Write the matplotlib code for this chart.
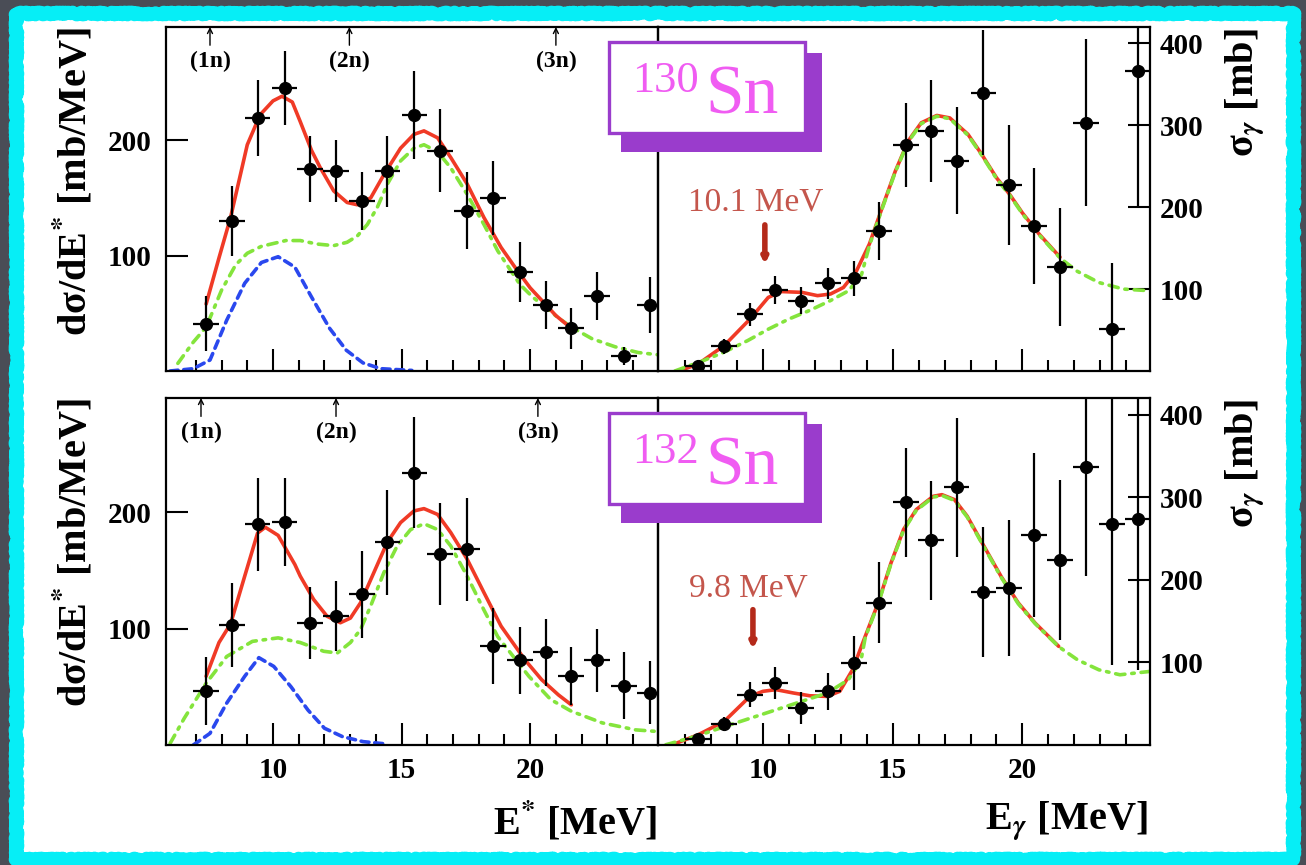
import matplotlib
matplotlib.use("Agg")
import matplotlib.pyplot as plt
from matplotlib.patches import Rectangle
from matplotlib.ticker import FixedLocator

plt.rcParams['font.family'] = ['Liberation Serif', 'DejaVu Serif']
plt.rcParams['font.weight'] = 'bold'
plt.rcParams['mathtext.fontset'] = 'stix'

W, H = 1306, 865

# ---- 130Sn : Coulomb excitation spectrum (left) and photoabsorption (right)
e_tl = [7.4, 8.4, 9.4, 10.45, 11.45, 12.45, 13.45, 14.45, 15.5, 16.5,
        17.55, 18.55, 19.6, 20.6, 21.6, 22.6, 23.65, 24.65]
y_tl = [41, 130, 219, 245, 175, 173, 147, 173, 222, 191,
        139, 150, 86, 57, 37, 65, 13, 57]
err_tl = [24, 30, 33, 32, 29, 27, 25, 31, 38, 36,
          33, 32, 26, 21, 18, 21, 8, 24]

e_tr = [7.48, 8.5, 9.5, 10.47, 11.46, 12.5, 13.5, 14.47, 15.5, 16.48,
        17.46, 18.5, 19.48, 20.46, 21.44, 22.45, 23.47, 24.45]
y_tr = [6.6, 30, 69.5, 99, 86, 107, 113, 171, 276, 293,
        257, 340, 227, 177, 127, 303, 51, 366]
err_tr = [3, 9, 14, 17, 17, 19, 21, 35, 51, 62,
          65, 76, 73, 71, 72, 102, 81, 166]

# ---- 132Sn
e_bl = e_tl
y_bl = [46.6, 103.4, 189.7, 191.7, 105, 110.6, 129.3, 174, 234, 164,
        168, 85, 72.7, 79.6, 59.5, 72.7, 51, 45]
err_bl = [29, 36, 40, 38, 31, 30, 37, 45, 48, 44,
          44, 33, 29, 29, 25, 27, 29, 27]

e_br = e_tr
y_br = [7.1, 25.7, 60.8, 75, 44.7, 64.9, 99.2, 172, 294, 248,
        312, 185, 190, 254, 224, 336, 267, 273]
err_br = [5, 8, 15, 19, 19, 22, 33, 49, 66, 72,
          84, 79, 82, 99, 97, 132, 170, 182]

# fit curves: total (red), GDR (green), pygmy (blue)
red_tl_x = [7.4, 7.9, 8.35, 9.0, 9.5, 10.0, 10.35, 10.75, 11.06, 11.5, 11.84,
            12.36, 12.88, 13.28, 13.8, 14.31, 14.96, 15.48, 15.87, 16.4, 16.91,
            17.55, 18.2, 18.87, 19.5, 20.0, 20.5, 21.0, 21.6]
red_tl_y = [58, 98, 133, 196, 222, 234, 238, 233, 216, 191, 176,
            156, 146, 144, 150, 170, 193, 205, 208, 202, 185,
            162, 133, 107, 87, 72, 60, 48, 37]
grn_tl_x = [6.3, 6.9, 7.4, 8.0, 8.55, 9.0, 9.55, 10.5, 11.06, 11.71, 12.36,
            12.88, 13.28, 13.67, 14.06, 14.45, 14.96, 15.48, 15.87, 16.4, 16.91,
            17.55, 18.2, 18.74, 19.6, 20.1, 20.6, 21.1, 21.6, 22.4, 23.3, 24.2, 25.0]
grn_tl_y = [6.6, 25, 38, 70, 92, 102, 108, 113, 113, 110, 108.6,
            111.5, 117, 127, 142, 162, 182, 193, 196, 190, 176,
            153, 127, 104, 75, 64, 55, 46, 38, 28, 21, 16, 14]
blu_tl_x = [6.0, 6.9, 7.55, 8.2, 8.9, 9.55, 10.2, 10.85, 11.5, 12.2, 12.85,
            13.5, 14.2, 15.4]
blu_tl_y = [0, 2, 9.5, 44, 76, 94, 99, 90, 64, 37, 18, 7, 2, 0.5]

red_tr_x = [6.8, 7.5, 8.5, 9.5, 10.2, 10.7, 11.5, 12.1, 12.6, 13.1, 13.6,
            14.1, 14.6, 15.1, 15.6, 16.1, 16.7, 17.2, 17.9, 18.4, 19.0,
            19.5, 20.0, 20.65, 21.45]
red_tr_y = [0.5, 8.6, 31, 63.5, 89.8, 97, 96, 92, 94, 102, 122,
            155, 200, 244, 281, 303, 312, 309, 289, 266, 236,
            216, 193, 167, 139]
grn_tr_x = [6.6, 7.7, 8.5, 9.4, 10.2, 11.0, 11.8, 12.6, 13.3, 13.8,
            14.1, 14.6, 15.1, 15.6, 16.1, 16.7, 17.2, 17.9, 18.4, 19.0,
            19.5, 20.0, 20.65, 21.45, 22.1, 22.95, 23.9, 24.9]
grn_tr_y = [0, 12.7, 23, 37, 51, 63.5, 74, 86, 98, 118,
            153, 199, 243, 280, 302, 311, 308, 288, 265, 235,
            215, 192, 166, 138, 122, 108, 100, 98]

red_bl_x = [7.4, 7.9, 8.35, 8.9, 9.4, 9.7, 10.2, 10.85, 11.06, 11.58, 12.1,
            12.62, 13.01, 13.4, 13.92, 14.44, 14.96, 15.48, 15.87, 16.4, 16.91,
            17.55, 18.2, 18.87, 19.8, 20.45, 21.1, 21.6]
red_bl_y = [59, 88, 104, 145, 182, 187, 180, 155, 145, 125, 110.6,
            105, 109, 122, 148, 174, 191, 201, 203, 198, 182.5,
            159.5, 131, 102, 73, 56, 43, 34.5]
grn_bl_x = [6.0, 6.55, 7.4, 8.2, 9.2, 10.2, 11.06, 11.97, 12.5, 13.01, 13.4,
            13.79, 14.31, 14.83, 15.35, 15.87, 16.4, 16.91, 17.55, 18.2, 18.74,
            19.95, 20.8, 21.6, 22.8, 24.1, 25.0]
grn_bl_y = [1.4, 23, 53, 76, 89, 92, 88, 80.5, 79, 88, 99,
            119, 148, 171, 185, 190, 185, 171, 145, 116, 93,
            59, 39, 29, 19, 13, 11.5]
blu_bl_x = [6.9, 7.55, 8.2, 8.9, 9.45, 10.03, 10.7, 11.36, 12.0, 12.7, 13.5, 14.4]
blu_bl_y = [0, 10, 36, 59, 75, 67.5, 50, 30, 14.4, 7.2, 2.9, 0.9]

red_br_x = [6.5, 7.5, 8.5, 9.5, 10.0, 10.5, 11.16, 11.8, 12.47, 12.96, 13.45,
            13.94, 14.44, 14.93, 15.42, 15.91, 16.56, 16.9, 17.38, 17.87, 18.53,
            19.18, 19.84, 20.49, 21.4]
red_br_y = [0.3, 12.4, 28.5, 59, 65, 67, 63, 59.6, 58.8, 65, 91,
            131.5, 172, 220, 261, 285, 301, 303, 297, 277, 240,
            204, 172, 147.6, 119.4]
grn_br_x = [6.25, 7.4, 8.54, 9.53, 10.51, 11.49, 12.47, 13.29, 13.78, 13.94,
            14.44, 14.93, 15.42, 15.91, 16.56, 16.9, 17.38, 17.87, 18.53, 19.18,
            19.84, 20.49, 21.4, 22.13, 22.95, 23.76, 24.9]
grn_br_y = [0.3, 10.4, 22.5, 32.6, 42.7, 52.8, 62.9, 79, 103, 130,
            171, 219, 260, 284, 300, 302, 296, 276, 239, 203,
            171, 147, 119, 103, 91, 85, 89]

# neutron separation thresholds
thr_130 = [7.55, 12.97, 21.0]
thr_132 = [7.2, 12.45, 20.3]
thr_lbl = ['(1n)', '(2n)', '(3n)']

RED = '#f03a26'
GREEN = '#84e43c'
BLUE = '#2a48ee'
PURPLE = '#9a3ccc'
MAGENTA = '#f05cf2'
BROWN = '#c4564c'


def fx(px):
    return px / W


def fy(py):
    return 1 - py / H


def rect(l, t, r, b):
    return [fx(l), fy(b), (r - l) / W, (b - t) / H]


fig = plt.figure(figsize=(W / 100, H / 100), dpi=100)
fig.patch.set_facecolor('#4a4d56')

# chalky cyan frame around the white board
board = Rectangle((fx(15.5), fy(859)), (1292.5 - 15.5) / W, (859 - 13) / H,
                  transform=fig.transFigure, facecolor='white',
                  edgecolor='#06eef6', lw=9.5, zorder=-5,
                  joinstyle='round')
board.set_sketch_params(1.3, 4, 8)
fig.patches.append(board)


def frame(ax, right, xlabels):
    ax.set_facecolor('none')
    for sp in ax.spines.values():
        sp.set_linewidth(1.6)
    ax.xaxis.set_major_locator(FixedLocator([10, 15, 20]))
    ax.xaxis.set_minor_locator(FixedLocator(range(7, 25)))
    ax.tick_params(axis='x', which='major', direction='in', length=16,
                   width=1.5, labelsize=21, pad=9, top=False,
                   labelbottom=xlabels)
    ax.tick_params(axis='x', which='minor', direction='in', length=8,
                   width=1.5, top=False)
    if right:
        ax.set_xlim(5.95, 24.92)
        ax.set_ylim(0, 420)
        ax.yaxis.tick_right()
        ax.yaxis.set_major_locator(FixedLocator([100, 200, 300, 400]))
        ax.tick_params(axis='y', direction='in', length=16, width=1.5,
                       labelsize=21, pad=7, left=False, right=True)
    else:
        ax.set_xlim(5.82, 24.97)
        ax.set_ylim(0, 298)
        ax.yaxis.set_major_locator(FixedLocator([100, 200]))
        ax.tick_params(axis='y', direction='in', length=16, width=1.5,
                       labelsize=21, pad=10, right=False)
    ax.yaxis.set_minor_locator(FixedLocator([]))


def curve(ax, x, y, color, ls, z):
    ax.plot(x, y, color=color, lw=2.6, ls=ls, solid_capstyle='round',
            dash_capstyle='round', zorder=z)


def points(ax, x, y, err):
    ax.errorbar(x, y, yerr=err, xerr=0.5, fmt='o', color='black', ms=8.5,
                elinewidth=1.6, capsize=0, zorder=4)


dashdot = (0, (2.6, 1.9, 0.7, 1.9))
dashed = (0, (2.2, 1.6))

rows = [
    (27, 371, False, '130', thr_130,
     (e_tl, y_tl, err_tl), (e_tr, y_tr, err_tr),
     (red_tl_x, red_tl_y, grn_tl_x, grn_tl_y, blu_tl_x, blu_tl_y),
     (red_tr_x, red_tr_y, grn_tr_x, grn_tr_y),
     ('10.1 MeV', 9.72, 205.6, 10.07, 178.4, 130.4)),
    (398, 745, True, '132', thr_132,
     (e_bl, y_bl, err_bl), (e_br, y_br, err_br),
     (red_bl_x, red_bl_y, grn_bl_x, grn_bl_y, blu_bl_x, blu_bl_y),
     (red_br_x, red_br_y, grn_br_x, grn_br_y),
     ('9.8 MeV', 9.44, 190.0, 9.61, 163.8, 116.1)),
]

for top, bot, xlab, mass, thr, dl, dr, cl, cr, pdr in rows:
    axl = fig.add_axes(rect(165.5, top, 658, bot))
    axr = fig.add_axes(rect(658, top, 1150, bot))
    frame(axl, False, xlab)
    frame(axr, True, xlab)

    # left: dsigma/dE*
    curve(axl, cl[2], cl[3], GREEN, dashdot, 2)
    curve(axl, cl[4], cl[5], BLUE, dashed, 2)
    curve(axl, cl[0], cl[1], RED, '-', 2.5)
    points(axl, *dl)

    for x, lbl in zip(thr, thr_lbl):
        axl.annotate('', xy=(x, 1.0), xytext=(x, 0.947),
                     xycoords=('data', 'axes fraction'),
                     textcoords=('data', 'axes fraction'),
                     arrowprops=dict(arrowstyle='->', lw=1.0, color='black',
                                     shrinkA=0, shrinkB=0, mutation_scale=9))
        axl.text(x, 0.9, lbl, transform=axl.get_xaxis_transform(),
                 ha='center', va='center', fontsize=17)

    # right: photoabsorption cross section, GDR drawn over the total
    curve(axr, cr[0], cr[1], RED, '-', 2)
    curve(axr, cr[2], cr[3], GREEN, dashdot, 2.5)
    points(axr, *dr)

    txt, tx, ty, ax_x, a0, a1 = pdr
    axr.text(tx, ty, txt, color=BROWN, fontsize=24, fontweight='normal',
             ha='center', va='center')
    axr.annotate('', xy=(ax_x, a1), xytext=(ax_x, a0),
                 arrowprops=dict(arrowstyle='-|>', lw=4, color='#b42a1a',
                                 shrinkA=0, shrinkB=0, mutation_scale=7))

    # nucleus tag with drop shadow
    off = top - 27
    fig.patches.append(Rectangle((fx(621), fy(152 + off)), 201 / W, 99 / H,
                                 transform=fig.transFigure, facecolor=PURPLE,
                                 edgecolor='none', zorder=5))
    fig.patches.append(Rectangle((fx(609), fy(133 + off)), 196 / W, 91 / H,
                                 transform=fig.transFigure, facecolor='white',
                                 edgecolor=PURPLE, lw=2.4, zorder=6))
    fig.text(fx(632), fy(92 + off), mass, color=MAGENTA, fontsize=32,
             fontweight='normal', va='baseline', ha='left', zorder=7)
    fig.text(fx(705), fy(113 + off), 'Sn', color=MAGENTA, fontsize=50,
             fontweight='normal', va='baseline', ha='left', zorder=7)

    # axis titles
    fig.text(fx(74), fy(top), 'd\u03c3/dE$^{*}$ [mb/MeV]', rotation=90,
             ha='center', va='top', fontsize=29, fontweight='bold')
    fig.text(fx(1246), fy(top + 1), '\u03c3$_{\\gamma}$ [mb]', rotation=90,
             ha='center', va='top', fontsize=29, fontweight='bold')

fig.text(fx(657), fy(835), 'E$^{*}$ [MeV]', ha='right', va='baseline',
         fontsize=29, fontweight='bold')
fig.text(fx(1148), fy(830), 'E$_{\\gamma}$ [MeV]', ha='right', va='baseline',
         fontsize=29, fontweight='bold')

fig.savefig('out.png', dpi=100, facecolor=fig.get_facecolor())
